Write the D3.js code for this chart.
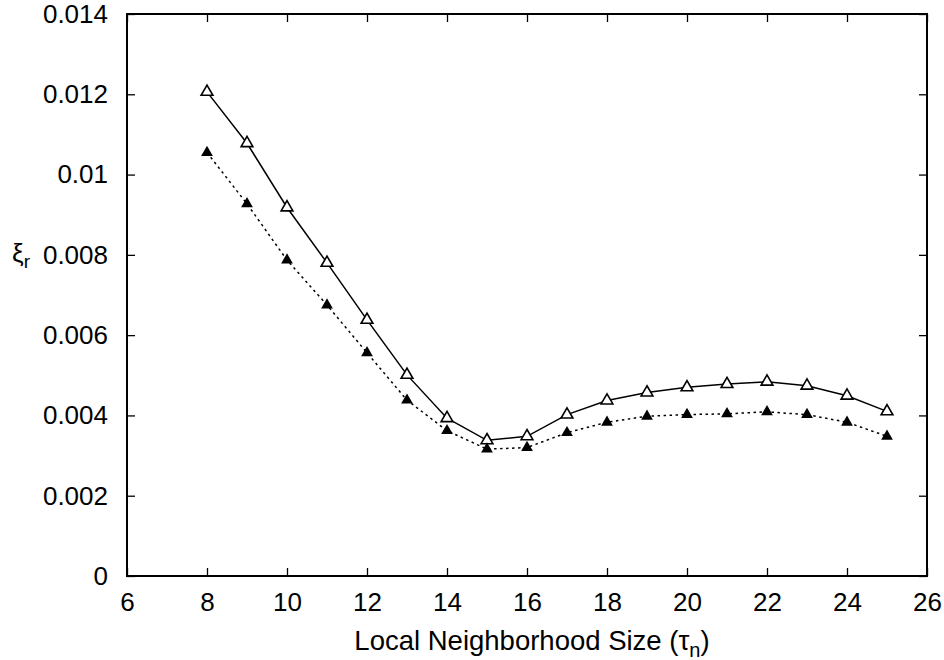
<!DOCTYPE html>
<html>
<head>
<meta charset="utf-8">
<script src="https://cdnjs.cloudflare.com/ajax/libs/d3/7.8.5/d3.min.js"></script>
<style>
  body { margin: 0; background: #fff; }
  text { font-family: "Liberation Sans", Arial, sans-serif; }
</style>
</head>
<body>
<div id="chart"></div>
<script>
// neighborhood sizes on the x axis
var sizes = [8, 9, 10, 11, 12, 13, 14, 15, 16, 17, 18, 19, 20, 21, 22, 23, 24, 25];

// open triangles, solid line
var openSeries = [0.01206, 0.01078, 0.00918, 0.0078, 0.00638, 0.00501, 0.00393, 0.00338, 0.00348,
                  0.00402, 0.00437, 0.00457, 0.0047, 0.00478, 0.00484, 0.00474, 0.00449, 0.0041];

// filled triangles, dotted line
var filledSeries = [0.01055, 0.00927, 0.00787, 0.00675, 0.00556, 0.00438, 0.00362, 0.00316, 0.0032,
                    0.00357, 0.00383, 0.00398, 0.00402, 0.00404, 0.00409, 0.00402, 0.00383, 0.00348];

var xTicks = [6, 8, 10, 12, 14, 16, 18, 20, 22, 24, 26];
var yTicks = [0, 0.002, 0.004, 0.006, 0.008, 0.01, 0.012, 0.014];
var yTickLabels = ["0", "0.002", "0.004", "0.006", "0.008", "0.01", "0.012", "0.014"];

var W = 944, H = 660;
var margin = { top: 14, right: 17, bottom: 84, left: 127 },
    width = W - margin.left - margin.right,
    height = H - margin.top - margin.bottom;

var svg = d3.select("#chart").append("svg")
    .attr("width", W)
    .attr("height", H);

var g = svg.append("g")
    .attr("transform", "translate(" + margin.left + "," + margin.top + ")");

var x = d3.scaleLinear().domain([6, 26]).range([0, width]);
var y = d3.scaleLinear().domain([0, 0.014]).range([height, 0]);

// ticks point inward, mirrored on all four sides (gnuplot style)
var tickLen = 8;
g.append("g")
    .attr("transform", "translate(0," + height + ")")
    .call(d3.axisBottom(x).tickValues(xTicks).tickSize(-tickLen).tickPadding(17).tickFormat(d3.format("d")));
g.append("g")
    .call(d3.axisTop(x).tickValues(xTicks).tickSize(-tickLen).tickFormat(""));
g.append("g")
    .call(d3.axisLeft(y).tickValues(yTicks).tickSize(-tickLen).tickPadding(19)
      .tickFormat(function(d, i) { return yTickLabels[i]; }));
g.append("g")
    .attr("transform", "translate(" + width + ",0)")
    .call(d3.axisRight(y).tickValues(yTicks).tickSize(-tickLen).tickFormat(""));

g.selectAll(".domain").remove();
g.selectAll(".tick line").attr("stroke", "#000").attr("stroke-width", 1.3);
g.selectAll(".tick text").attr("font-size", 26).attr("fill", "#000")
    .attr("font-family", "'Liberation Sans', Arial, sans-serif");

// frame
g.append("rect")
    .attr("width", width)
    .attr("height", height)
    .attr("fill", "none")
    .attr("stroke", "#000")
    .attr("stroke-width", 2);

var line = d3.line()
    .x(function(d) { return x(d[0]); })
    .y(function(d) { return y(d[1]); });

var openPts = sizes.map(function(s, i) { return [s, openSeries[i]]; });
var filledPts = sizes.map(function(s, i) { return [s, filledSeries[i]]; });

g.append("path")
    .datum(filledPts)
    .attr("fill", "none")
    .attr("stroke", "#000")
    .attr("stroke-width", 1.5)
    .attr("stroke-dasharray", "2.5,3.5")
    .attr("d", line);

g.append("path")
    .datum(openPts)
    .attr("fill", "none")
    .attr("stroke", "#000")
    .attr("stroke-width", 1.5)
    .attr("d", line);

var tri = d3.symbol().type(d3.symbolTriangle).size(60);

g.selectAll(".open")
    .data(openPts)
    .enter().append("path")
    .attr("class", "open")
    .attr("transform", function(d) { return "translate(" + x(d[0]) + "," + y(d[1]) + ")"; })
    .attr("d", tri)
    .attr("fill", "#fff")
    .attr("stroke", "#000")
    .attr("stroke-width", 1.6);

g.selectAll(".filled")
    .data(filledPts)
    .enter().append("path")
    .attr("class", "filled")
    .attr("transform", function(d) { return "translate(" + x(d[0]) + "," + y(d[1]) + ")"; })
    .attr("d", tri)
    .attr("fill", "#000");

// axis titles
var xl = svg.append("text")
    .attr("x", 532)
    .attr("y", 650)
    .attr("text-anchor", "middle")
    .attr("font-size", 27.5);
xl.append("tspan").text("Local Neighborhood Size (");
xl.append("tspan").text("τ");
xl.append("tspan").attr("font-size", 20).attr("dy", 7).text("n");
xl.append("tspan").attr("dy", -7).text(")");

var yl = svg.append("text")
    .attr("x", 12)
    .attr("y", 262)
    .attr("font-size", 26);
yl.append("tspan").text("ξ");
yl.append("tspan").attr("font-size", 19).attr("dy", 6).text("r");
</script>
</body>
</html>
